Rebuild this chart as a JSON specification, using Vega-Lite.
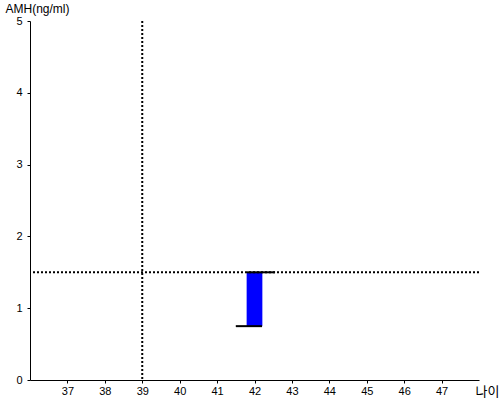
{
  "$schema": "https://vega.github.io/schema/vega-lite/v6.json",
  "width": 449,
  "height": 359,
  "autosize": "none",
  "padding": {"left": 30, "top": 21, "right": 21, "bottom": 20},
  "background": "white",
  "config": {
    "view": {"stroke": null},
    "font": "Liberation Sans",
    "axis": {"grid": false, "domainColor": "black", "tickColor": "black", "labelColor": "black", "labelFont": "Liberation Sans", "labelFontSize": 11, "titleColor": "black", "domainWidth": 1}
  },
  "datasets": {
    "bars": [{"age": 42, "lo": 0.75, "hi": 1.5, "x0": 41.79, "x1": 42.21}],
    "caps": [
      {"kind": "top", "value": 1.5, "from": 41.8, "to": 42.55},
      {"kind": "bottom", "value": 0.75, "from": 41.5, "to": 42.2}
    ],
    "refs": [{"age": 39, "amh": 1.5}]
  },
  "layer": [
    {
      "data": {"name": "bars"},
      "mark": {"type": "rect", "color": "#0000FF"},
      "encoding": {
        "x": {"field": "x0", "type": "quantitative", "scale": {"domain": [36, 48], "nice": false, "zero": false},
          "axis": {"values": [37, 38, 39, 40, 41, 42, 43, 44, 45, 46, 47], "format": "d", "tickSize": 3, "labelPadding": 2, "title": "나이", "titleFont": "Noto Sans CJK KR", "titleFontSize": 13, "titleFontWeight": "normal", "titleAlign": "left", "titleBaseline": "middle", "titleX": 445, "titleY": 11, "titleAnchor": null}},
        "x2": {"field": "x1"},
        "y": {"field": "lo", "type": "quantitative", "scale": {"domain": [0, 5], "nice": false},
          "axis": {"values": [0, 1, 2, 3, 4, 5], "format": "d", "tickSize": 3, "labelPadding": 5, "title": "AMH(ng/ml)", "titleAngle": 0, "titleFontSize": 12, "titleFontWeight": "normal", "titleAlign": "left", "titleBaseline": "middle", "titleX": -25, "titleY": -13}},
        "y2": {"field": "hi"}
      }
    },
    {
      "data": {"name": "caps"},
      "mark": {"type": "rule", "color": "black", "strokeWidth": 2},
      "encoding": {
        "x": {"field": "from", "type": "quantitative"},
        "x2": {"field": "to"},
        "y": {"field": "value", "type": "quantitative"}
      }
    },
    {
      "data": {"name": "refs"},
      "mark": {"type": "rule", "color": "black", "strokeWidth": 2, "strokeDash": [2, 2]},
      "encoding": {"x": {"field": "age", "type": "quantitative"}}
    },
    {
      "data": {"name": "refs"},
      "mark": {"type": "rule", "color": "black", "strokeWidth": 2, "strokeDash": [2, 2]},
      "encoding": {"y": {"field": "amh", "type": "quantitative"}}
    }
  ]
}
